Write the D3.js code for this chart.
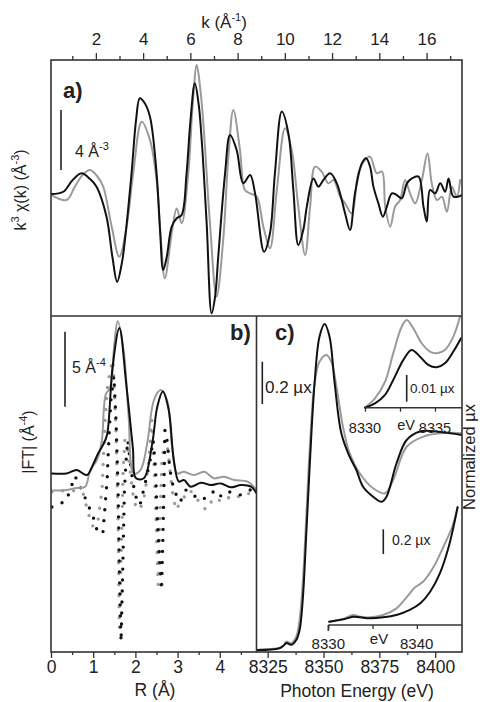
<!DOCTYPE html>
<html><head><meta charset="utf-8">
<script src="https://cdn.jsdelivr.net/npm/d3@7"></script>
<style>
body{margin:0;background:#fff}
svg{display:block}
text{font-family:"Liberation Sans",Arial,sans-serif;fill:#222}
</style>
</head><body><svg id="c" width="480" height="702"></svg>
<script>
// ---------- DATA ----------
const kTicks = [2,4,6,8,10,12,14,16];
const kMinor = [1,3,5,7,9,11,13,15,17];
const rTicks = [0,1,2,3,4];
const rMinor = [0.5,1.5,2.5,3.5,4.5];
const eTicks = [8325,8350,8375,8400];
const eMinor = [8337.5,8362.5,8387.5];

// panel a: k^3 chi(k)
const chiBlack = [[0.12,0],[0.62,0.15],[1.0,0.9],[1.39,1.38],[1.75,1.0],[2.03,0.49],[2.45,-1.51],[2.7,-4.2],[2.9,-5.85],[3.1,-4.6],[3.23,-3.07],[3.51,1.38],[3.7,4.9],[3.86,6.38],[4.05,6.1],[4.29,5.15],[4.57,1.38],[4.72,-2.5],[4.85,-5.07],[5.0,-4.2],[5.21,-2.18],[5.42,-1.62],[5.63,-1.4],[5.84,1.38],[6.0,4.8],[6.19,7.38],[6.35,6.0],[6.48,3.6],[6.69,-1.95],[6.9,-7.95],[7.05,-6.8],[7.18,-4.18],[7.47,1.38],[7.68,3.93],[7.96,2.93],[8.24,0.71],[8.53,1.27],[8.74,0.04],[9.12,-3.85],[9.37,-2.62],[9.58,1.38],[9.87,5.49],[10.15,4.04],[10.36,0.27],[10.57,-3.4],[10.78,-2.4],[10.93,-0.84],[11.21,1.04],[11.42,0.49],[11.63,0.93],[11.92,1.38],[12.2,0.71],[12.41,-0.4],[12.55,-1.29],[12.76,-2.4],[12.97,0.04],[13.26,2.04],[13.44,2.38],[13.61,1.82],[13.75,0.49],[13.96,-0.62],[14.15,-1.51],[14.32,-0.84],[14.53,0.04],[14.74,-0.07],[14.95,-0.29],[15.17,0.71],[15.38,1.04],[15.66,1.16],[15.87,-0.84],[16.01,-1.84],[16.15,0.27],[16.36,0.04],[16.58,0.71],[16.79,0.15],[16.93,1.04],[17.14,-0.18],[17.5,-0.07]];
const chiGray = [[0.12,-0.07],[0.76,-0.4],[1.11,0.49],[1.45,1.3],[1.75,1.6],[2.05,1.2],[2.31,0.49],[2.67,-2.18],[2.99,-4.18],[3.3,-2.18],[3.58,1.38],[3.94,4.82],[4.29,3.6],[4.57,0.93],[4.75,-3.0],[4.92,-5.62],[5.21,-2.62],[5.42,-0.96],[5.63,-1.95],[5.91,1.38],[6.1,6.0],[6.27,8.6],[6.42,7.0],[6.55,4.71],[6.83,-1.95],[7.11,-6.84],[7.39,-3.07],[7.61,2.49],[7.82,5.6],[8.1,2.93],[8.31,0.27],[8.53,0.04],[8.81,-0.18],[9.09,-2.18],[9.37,-3.62],[9.66,0.27],[10.01,4.38],[10.29,2.93],[10.57,-0.84],[10.86,-4.07],[11.07,-0.84],[11.28,1.82],[11.56,1.49],[11.84,0.71],[12.06,0.93],[12.34,-0.18],[12.55,-0.62],[12.83,-1.29],[13.11,1.38],[13.4,2.27],[13.61,2.49],[13.89,1.38],[14.11,1.49],[14.25,-0.84],[14.46,-2.18],[14.67,-0.84],[14.88,-0.4],[15.09,0.93],[15.3,0.04],[15.52,-0.62],[15.8,0.93],[16.04,2.71],[16.22,0.71],[16.44,-0.4],[16.65,-0.18],[16.86,-1.18],[17.07,0.49],[17.28,-0.18],[17.42,0.93]];

// panel b: |FT| (solid) and dotted curves
const ftBlack = [[0.02,11.9],[0.37,11.9],[0.61,12.13],[0.85,11.8],[1.01,12.58],[1.11,13.2],[1.25,13.9],[1.33,14.5],[1.46,19.0],[1.62,21.6],[1.78,17.95],[1.94,13.6],[2.01,11.6],[2.2,11.58],[2.4,13.91],[2.52,16.36],[2.65,17.36],[2.79,16.13],[2.91,12.8],[3.03,11.36],[3.15,11.47],[3.31,11.02],[3.55,11.29],[3.79,11.13],[4.02,11.24],[4.26,10.98],[4.5,11.13],[4.74,11.02],[4.87,10.58]];
const ftGray = [[0.02,10.76],[0.37,10.8],[0.61,10.93],[0.81,11.02],[0.93,12.13],[1.09,12.8],[1.2,14.0],[1.3,17.2],[1.4,17.6],[1.5,20.5],[1.58,22.05],[1.72,20.13],[1.84,15.69],[1.96,11.91],[2.12,12.13],[2.28,13.91],[2.44,16.8],[2.6,17.47],[2.75,16.8],[2.87,13.69],[2.99,11.91],[3.15,12.02],[3.39,11.8],[3.63,12.02],[3.86,11.58],[4.1,11.69],[4.34,11.47],[4.66,11.36],[4.87,10.8]];
const imBlack = [[0.02,9.67],[0.14,9.8],[0.36,10.07],[0.57,11.73],[0.78,10.47],[1.0,9.0],[1.11,7.93],[1.23,7.93],[1.28,9.67],[1.33,11.47],[1.37,14.13],[1.42,16.8],[1.49,18.4],[1.54,15.47],[1.59,10.8],[1.62,5.47],[1.66,0.67],[1.7,5.47],[1.74,10.8],[1.78,12.8],[1.82,14.13],[1.9,12.13],[1.99,10.47],[2.11,9.8],[2.25,11.47],[2.35,12.8],[2.42,14.13],[2.48,12.13],[2.51,9.47],[2.56,6.8],[2.62,4.13],[2.65,7.47],[2.68,11.47],[2.7,14.8],[2.75,14.13],[2.82,12.13],[2.91,10.8],[3.06,10.0],[3.2,10.8],[3.34,10.53],[3.53,10.13],[3.72,10.33],[3.89,10.8],[4.05,10.33],[4.24,10.67],[4.48,10.47],[4.72,10.8],[4.86,10.8]];
const imGray = [[0.02,10.67],[0.45,10.8],[0.76,10.6],[0.88,9.27],[1.0,8.33],[1.11,8.67],[1.21,10.8],[1.28,15.47],[1.33,17.47],[1.4,18.8],[1.47,19.47],[1.54,14.8],[1.59,8.8],[1.62,1.6],[1.66,6.13],[1.71,12.13],[1.75,14.13],[1.82,13.47],[1.9,11.47],[1.97,9.93],[2.11,9.47],[2.23,10.6],[2.32,12.8],[2.39,15.47],[2.46,11.47],[2.54,4.47],[2.58,8.8],[2.63,12.8],[2.7,14.13],[2.77,13.47],[2.87,10.8],[2.96,9.47],[3.1,10.13],[3.29,10.8],[3.48,10.13],[3.67,9.47],[3.86,10.27],[4.08,10.0],[4.29,10.47],[4.48,10.33],[4.72,10.6],[4.86,10.47]];

// panel c: XANES
const xanesBlack = [[8320,0],[8330.3,0.008],[8332.5,0.024],[8333.5,0.032],[8335.5,0.024],[8337.8,0.047],[8339.3,0.094],[8340.7,0.236],[8342.3,0.551],[8343.8,0.866],[8346,1.26],[8348.2,1.48],[8350.5,1.54],[8352.7,1.48],[8355,1.26],[8358,1.023],[8361.7,0.913],[8364.7,0.85],[8367.7,0.771],[8372.2,0.724],[8376,0.70],[8378.2,0.724],[8382.7,0.882],[8387.2,0.992],[8393.2,1.032],[8400.7,1.032],[8406.7,1.024],[8412,1.016]];
const xanesGray = [[8320,0],[8331.7,0.016],[8333.3,0.039],[8335.5,0.031],[8337.8,0.063],[8339.3,0.142],[8340.7,0.315],[8342.3,0.63],[8343.8,0.945],[8346,1.26],[8348.2,1.362],[8351.3,1.394],[8353.5,1.362],[8355.8,1.244],[8358.7,1.055],[8361.7,0.929],[8366.2,0.835],[8372.2,0.764],[8377.5,0.74],[8381.2,0.803],[8387.2,0.96],[8394.7,1.008],[8402.2,1.024],[8412,1.024]];
// top inset (pre-edge)
const preBlack = [[8330,0.0],[8330.71,0.0016],[8331.43,0.0048],[8332.02,0.0104],[8332.74,0.0179],[8333.33,0.0216],[8333.93,0.0191],[8334.52,0.016],[8335.12,0.0151],[8335.71,0.0166],[8336.31,0.021],[8336.86,0.026]];
const preGray = [[8330,0.0001],[8330.71,0.0035],[8331.43,0.0097],[8332.02,0.0204],[8332.62,0.0303],[8332.98,0.0328],[8333.45,0.0297],[8334.05,0.0241],[8334.64,0.021],[8335.12,0.0204],[8335.71,0.0216],[8336.31,0.0266],[8336.79,0.0341]];
const insetTicks1 = [8330,8332.5,8335];
// bottom inset (edge onset)
const edgeBlack = [[8330.1,0.027],[8331.7,0.046],[8332.8,0.067],[8333.6,0.062],[8334.7,0.054],[8336.2,0.062],[8337.7,0.081],[8339.2,0.122],[8340.4,0.176],[8341.5,0.27],[8342.6,0.419],[8343.6,0.635],[8344.3,0.85],[8344.6,0.955]];
const edgeGray = [[8330.1,0.027],[8331.7,0.05],[8332.8,0.081],[8333.6,0.067],[8334.7,0.062],[8336.2,0.081],[8337.7,0.135],[8338.9,0.23],[8339.8,0.306],[8340.7,0.351],[8341.9,0.473],[8343,0.635],[8344,0.797],[8344.6,0.955]];
const insetTicks2 = [8330,8335,8340];

// ---------- LAYOUT ----------
const L=51, RT=462, T=60, MID=316, B=652, VS=256.5;
const BLACK="#111", GRAY="#9a9a9a", FRAME="#333";
const svg=d3.select("#c");
const defs=svg.append("defs");
function clip(id,x,y,w,h){defs.append("clipPath").attr("id",id).append("rect").attr("x",x).attr("y",y).attr("width",w).attr("height",h);}
clip("ca",L,T,RT-L,MID-T);
clip("cb",L,MID,VS-L,B-MID);
clip("cc",VS,MID,RT-VS,B-MID);

const xk=d3.scaleLinear().domain([0.1,17.5]).range([L,RT]);
const ya=d3.scaleLinear().domain([-8.13,8.93]).range([MID,T]);
const xr=d3.scaleLinear().domain([0,4.87]).range([L,VS]);
const yb=d3.scaleLinear().domain([0,22.4]).range([B,MID]);
const xe=d3.scaleLinear().domain([8320,8412]).range([VS,RT]);
const yc=d3.scaleLinear().domain([-0.01,1.578]).range([B,MID]);
const xi1=d3.scaleLinear().domain([8330,8336.93]).range([365,RT]);
const yi1=d3.scaleLinear().domain([0,0.0343]).range([407.7,316]);
const xi2=d3.scaleLinear().domain([8330,8345.1]).range([328.3,RT]);
const yi2=d3.scaleLinear().domain([0,1]).range([625,501.7]);

function drawLine(g,data,xs,ys,color,w,curve,dash){
  const p=g.append("path").datum(data)
    .attr("d",d3.line().x(d=>xs(d[0])).y(d=>ys(d[1])).curve(curve||d3.curveCatmullRom.alpha(0.5)))
    .attr("fill","none").attr("stroke",color).attr("stroke-width",w)
    .attr("stroke-linejoin","round").attr("stroke-linecap","round");
  if(dash) p.attr("stroke-dasharray",dash);
  return p;
}

// panel a
const ga=svg.append("g").attr("clip-path","url(#ca)");
drawLine(ga,chiGray,xk,ya,GRAY,2);
drawLine(ga,chiBlack,xk,ya,BLACK,2);

// panel b
const gb=svg.append("g").attr("clip-path","url(#cb)");
drawLine(gb,imGray,xr,yb,GRAY,3.4,d3.curveLinear,"0 11");
drawLine(gb,imBlack,xr,yb,BLACK,3.4,d3.curveLinear,"0 11");
drawLine(gb,ftGray,xr,yb,GRAY,2);
drawLine(gb,ftBlack,xr,yb,BLACK,2);

// panel c
const gc=svg.append("g").attr("clip-path","url(#cc)");
drawLine(gc,xanesGray,xe,yc,GRAY,2);
drawLine(gc,xanesBlack,xe,yc,BLACK,2);
drawLine(gc,preGray,xi1,yi1,GRAY,2);
drawLine(gc,preBlack,xi1,yi1,BLACK,2);
drawLine(gc,edgeGray,xi2,yi2,GRAY,2);
drawLine(gc,edgeBlack,xi2,yi2,BLACK,2);

// frames
svg.append("rect").attr("x",L).attr("y",T).attr("width",RT-L).attr("height",B-T)
  .attr("fill","none").attr("stroke",FRAME).attr("stroke-width",1.6);
svg.append("line").attr("x1",L).attr("x2",RT).attr("y1",MID).attr("y2",MID).attr("stroke",FRAME).attr("stroke-width",1.6);
svg.append("line").attr("x1",VS).attr("x2",VS).attr("y1",MID).attr("y2",B).attr("stroke",FRAME).attr("stroke-width",1.6);

// axes
function styleAxis(g,fs){
  g.select(".domain").remove();
  g.selectAll(".tick line").attr("stroke",FRAME).attr("stroke-width",1.3);
  g.selectAll("text").attr("font-size",fs).attr("fill","#222").attr("font-family","Liberation Sans, Arial, sans-serif");
}
let g;
g=svg.append("g").attr("transform",`translate(0,${T})`).call(d3.axisTop(xk).tickValues(kTicks).tickSize(7).tickPadding(8).tickFormat(d3.format("d"))); styleAxis(g,17);
g=svg.append("g").attr("transform",`translate(0,${T})`).call(d3.axisTop(xk).tickValues(kMinor).tickSize(4).tickFormat("")); styleAxis(g,17);
g=svg.append("g").attr("transform",`translate(0,${B})`).call(d3.axisBottom(xr).tickValues(rTicks).tickSize(6).tickPadding(3).tickFormat(d3.format("d"))); styleAxis(g,17.5);
g=svg.append("g").attr("transform",`translate(0,${B})`).call(d3.axisBottom(xr).tickValues(rMinor).tickSize(3).tickFormat("")); styleAxis(g,17.5);
g=svg.append("g").attr("transform",`translate(0,${B})`).call(d3.axisBottom(xe).tickValues(eTicks).tickSize(6).tickPadding(3).tickFormat(d3.format("d"))); styleAxis(g,17.5);
g=svg.append("g").attr("transform",`translate(0,${B})`).call(d3.axisBottom(xe).tickValues(eMinor).tickSize(3).tickFormat("")); styleAxis(g,17.5);

// inset axes
svg.append("line").attr("x1",xi1(8330)).attr("x2",RT).attr("y1",yi1(0)).attr("y2",yi1(0)).attr("stroke",FRAME).attr("stroke-width",1.6);
g=svg.append("g").attr("transform",`translate(0,${yi1(0)})`).call(d3.axisBottom(xi1).tickValues(insetTicks1).tickSize(4).tickFormat("")); styleAxis(g,14);
svg.append("line").attr("x1",xi2(8330)).attr("x2",RT).attr("y1",yi2(0)).attr("y2",yi2(0)).attr("stroke",FRAME).attr("stroke-width",1.6);
g=svg.append("g").attr("transform",`translate(0,${yi2(0)})`).call(d3.axisBottom(xi2).tickValues(insetTicks2).tickSize(4).tickFormat("")); styleAxis(g,15);
svg.append("line").attr("x1",xi2(8330)).attr("x2",xi2(8330)).attr("y1",yi2(0)).attr("y2",yi2(0)+6).attr("stroke",FRAME).attr("stroke-width",1.6);

function txt(x,y,s,fs,opts){
  const t=svg.append("text").attr("x",x).attr("y",y).attr("font-size",fs).text(s);
  if(opts){for(const k in opts) t.attr(k,opts[k]);}
  return t;
}
txt(365,433,"8330",14.5,{"text-anchor":"middle"});
txt(406,430,"eV",14.5,{"text-anchor":"middle"});
txt(435,433,"8335",14.5,{"text-anchor":"middle"});
txt(328.3,649,"8330",15,{"text-anchor":"middle"});
txt(379,644,"eV",15,{"text-anchor":"middle"});
txt(416.7,649,"8340",15,{"text-anchor":"middle"});

// scale bars
function vbar(x,y1,y2){svg.append("line").attr("x1",x).attr("x2",x).attr("y1",y1).attr("y2",y2).attr("stroke","#222").attr("stroke-width",1.6);}
vbar(61,ya(1.6),ya(5.6));
vbar(65,yb(16.35),yb(21.35));
vbar(262.3,yc(1.162),yc(1.362));
vbar(406.7,yi1(0.00225),yi1(0.01225));
vbar(383.3,yi2(0.576),yi2(0.776));

// scale bar labels
let t;
t=txt(75,157,"4 Å",16); t.append("tspan").attr("dy",-7).attr("font-size",11).text("-3");
t=txt(72,373,"5 Å",16); t.append("tspan").attr("dy",-7).attr("font-size",11).text("-4");
txt(265,393,"0.2 µx",17);
txt(410,393,"0.01 µx",13.5);
txt(392,545,"0.2 µx",14);

// panel labels
txt(63,98,"a)",22,{"font-weight":"bold"});
txt(230,340,"b)",22,{"font-weight":"bold"});
txt(275,340,"c)",22,{"font-weight":"bold"});

// axis titles
t=txt(224,28,"k (Å",17,{"text-anchor":"middle"}); t.append("tspan").attr("dy",-7).attr("font-size",11).text("-1"); t.append("tspan").attr("dy",7).text(")");
txt(155,696,"R (Å)",17.5,{"text-anchor":"middle"});
txt(357,697,"Photon Energy (eV)",17.5,{"text-anchor":"middle"});
t=svg.append("text").attr("transform","translate(26,190) rotate(-90)").attr("text-anchor","middle").attr("font-size",16);
t.append("tspan").text("k");
t.append("tspan").attr("dy",-7).attr("font-size",11).text("3");
t.append("tspan").attr("dy",7).text(" χ(k) (Å");
t.append("tspan").attr("dy",-7).attr("font-size",11).text("-3");
t.append("tspan").attr("dy",7).text(")");
t=svg.append("text").attr("transform","translate(34,442) rotate(-90)").attr("text-anchor","middle").attr("font-size",16);
t.append("tspan").text("|FT| (Å");
t.append("tspan").attr("dy",-7).attr("font-size",11).text("-4");
t.append("tspan").attr("dy",7).text(")");
svg.append("text").attr("transform","translate(475,457) rotate(-90)").attr("text-anchor","middle").attr("font-size",16.5).text("Normalized µx");
</script>
</body></html>
